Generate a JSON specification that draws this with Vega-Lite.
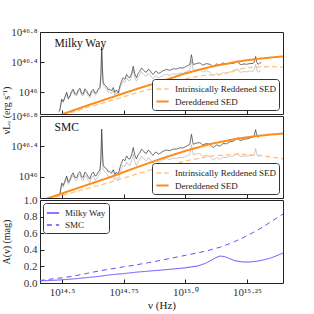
{
  "$schema": "https://vega.github.io/schema/vega-lite/v6.json",
  "padding": {"left": 0, "top": 25, "right": 5, "bottom": 5},
  "config": {
    "font": "Liberation Serif",
    "view": {"stroke": "#222", "strokeWidth": 1},
    "axis": {"grid": false, "domain": false, "tickSize": -4, "tickColor": "#222", "labelFont": "Liberation Serif", "labelFontSize": 11, "labelColor": "#333", "titleFont": "Liberation Serif", "titleFontSize": 11, "titleFontWeight": "normal", "titleColor": "#222", "labelPadding": 7},
    "axisY": {"minExtent": 27, "maxExtent": 27, "titlePadding": 2, "labelFlush": false, "titleFontSize": 10},
    "legend": {"title": null, "fillColor": "white", "strokeColor": "#333", "cornerRadius": 3, "padding": 3, "labelFont": "Liberation Serif", "labelFontSize": 9, "labelColor": "#222", "rowPadding": 0, "symbolType": "stroke", "symbolSize": 150, "symbolStrokeWidth": 1.6, "labelOffset": 5, "offset": 4}
  },
  "datasets": {
    "spec": [
      {"nu":14.488,"obs":45.73,"mw":45.745,"smc":45.755},
      {"nu":14.492,"obs":45.762,"mw":45.777,"smc":45.786},
      {"nu":14.499,"obs":45.892,"mw":45.908,"smc":45.917},
      {"nu":14.505,"obs":45.86,"mw":45.876,"smc":45.886},
      {"nu":14.512,"obs":45.918,"mw":45.934,"smc":45.944},
      {"nu":14.519,"obs":45.983,"mw":46.0,"smc":46.01},
      {"nu":14.526,"obs":45.9,"mw":45.917,"smc":45.928},
      {"nu":14.532,"obs":45.932,"mw":45.95,"smc":45.961},
      {"nu":14.539,"obs":45.99,"mw":46.008,"smc":46.02},
      {"nu":14.545,"obs":46.021,"mw":46.04,"smc":46.052},
      {"nu":14.552,"obs":45.96,"mw":45.979,"smc":45.993},
      {"nu":14.56,"obs":45.954,"mw":45.974,"smc":45.988},
      {"nu":14.566,"obs":46.01,"mw":46.03,"smc":46.045},
      {"nu":14.573,"obs":46.031,"mw":46.052,"smc":46.067},
      {"nu":14.58,"obs":45.96,"mw":45.982,"smc":45.998},
      {"nu":14.586,"obs":45.951,"mw":45.974,"smc":45.99},
      {"nu":14.593,"obs":46.02,"mw":46.044,"smc":46.061},
      {"nu":14.6,"obs":45.993,"mw":46.017,"smc":46.035},
      {"nu":14.607,"obs":45.95,"mw":45.975,"smc":45.994},
      {"nu":14.613,"obs":45.925,"mw":45.95,"smc":45.969},
      {"nu":14.62,"obs":45.99,"mw":46.016,"smc":46.036},
      {"nu":14.627,"obs":46.014,"mw":46.04,"smc":46.062},
      {"nu":14.634,"obs":45.96,"mw":45.987,"smc":46.01},
      {"nu":14.64,"obs":45.968,"mw":45.996,"smc":46.018},
      {"nu":14.647,"obs":46.012,"mw":46.04,"smc":46.064},
      {"nu":14.654,"obs":46.037,"mw":46.066,"smc":46.091},
      {"nu":14.658,"obs":46.2,"mw":46.229,"smc":46.255},
      {"nu":14.661,"obs":46.573,"mw":46.603,"smc":46.629},
      {"nu":14.664,"obs":46.3,"mw":46.33,"smc":46.357},
      {"nu":14.667,"obs":46.097,"mw":46.127,"smc":46.154},
      {"nu":14.674,"obs":46.06,"mw":46.091,"smc":46.12},
      {"nu":14.681,"obs":46.043,"mw":46.075,"smc":46.103},
      {"nu":14.688,"obs":46.0,"mw":46.033,"smc":46.063},
      {"nu":14.694,"obs":46.005,"mw":46.04,"smc":46.068},
      {"nu":14.701,"obs":45.98,"mw":46.015,"smc":46.046},
      {"nu":14.708,"obs":46.026,"mw":46.062,"smc":46.092},
      {"nu":14.714,"obs":45.96,"mw":45.997,"smc":46.029},
      {"nu":14.721,"obs":45.992,"mw":46.03,"smc":46.062},
      {"nu":14.728,"obs":45.95,"mw":45.988,"smc":46.022},
      {"nu":14.735,"obs":46.044,"mw":46.083,"smc":46.118},
      {"nu":14.741,"obs":46.1,"mw":46.14,"smc":46.177},
      {"nu":14.748,"obs":46.153,"mw":46.193,"smc":46.231},
      {"nu":14.755,"obs":46.13,"mw":46.171,"smc":46.21},
      {"nu":14.762,"obs":46.194,"mw":46.236,"smc":46.274},
      {"nu":14.768,"obs":46.16,"mw":46.203,"smc":46.242},
      {"nu":14.775,"obs":46.149,"mw":46.193,"smc":46.231},
      {"nu":14.782,"obs":46.2,"mw":46.245,"smc":46.285},
      {"nu":14.789,"obs":46.299,"mw":46.345,"smc":46.385},
      {"nu":14.795,"obs":46.2,"mw":46.247,"smc":46.288},
      {"nu":14.802,"obs":46.145,"mw":46.193,"smc":46.233},
      {"nu":14.809,"obs":46.2,"mw":46.249,"smc":46.29},
      {"nu":14.816,"obs":46.229,"mw":46.279,"smc":46.319},
      {"nu":14.822,"obs":46.27,"mw":46.32,"smc":46.362},
      {"nu":14.829,"obs":46.251,"mw":46.302,"smc":46.344},
      {"nu":14.836,"obs":46.22,"mw":46.272,"smc":46.315},
      {"nu":14.843,"obs":46.213,"mw":46.266,"smc":46.309},
      {"nu":14.849,"obs":46.25,"mw":46.304,"smc":46.348},
      {"nu":14.856,"obs":46.237,"mw":46.292,"smc":46.336},
      {"nu":14.863,"obs":46.2,"mw":46.256,"smc":46.301},
      {"nu":14.87,"obs":46.18,"mw":46.236,"smc":46.282},
      {"nu":14.876,"obs":46.21,"mw":46.267,"smc":46.314},
      {"nu":14.883,"obs":46.221,"mw":46.279,"smc":46.326},
      {"nu":14.89,"obs":46.19,"mw":46.249,"smc":46.297},
      {"nu":14.897,"obs":46.198,"mw":46.258,"smc":46.306},
      {"nu":14.91,"obs":46.225,"mw":46.286,"smc":46.336},
      {"nu":14.924,"obs":46.239,"mw":46.302,"smc":46.353},
      {"nu":14.937,"obs":46.225,"mw":46.29,"smc":46.343},
      {"nu":14.951,"obs":46.245,"mw":46.311,"smc":46.365},
      {"nu":14.964,"obs":46.24,"mw":46.308,"smc":46.363},
      {"nu":14.978,"obs":46.255,"mw":46.324,"smc":46.381},
      {"nu":14.991,"obs":46.25,"mw":46.321,"smc":46.38},
      {"nu":15.005,"obs":46.272,"mw":46.345,"smc":46.404},
      {"nu":15.018,"obs":46.292,"mw":46.367,"smc":46.427},
      {"nu":15.025,"obs":46.422,"mw":46.498,"smc":46.559},
      {"nu":15.032,"obs":46.289,"mw":46.367,"smc":46.427},
      {"nu":15.045,"obs":46.3,"mw":46.38,"smc":46.444},
      {"nu":15.059,"obs":46.305,"mw":46.39,"smc":46.449},
      {"nu":15.07,"obs":46.27,"mw":46.36,"smc":46.421},
      {"nu":15.086,"obs":46.284,"mw":46.38,"smc":46.438},
      {"nu":15.1,"obs":46.265,"mw":46.37,"smc":46.424},
      {"nu":15.113,"obs":46.22,"mw":46.336,"smc":46.384},
      {"nu":15.127,"obs":46.25,"mw":46.375,"smc":46.42},
      {"nu":15.14,"obs":46.23,"mw":46.36,"smc":46.402},
      {"nu":15.153,"obs":46.26,"mw":46.389,"smc":46.437},
      {"nu":15.167,"obs":46.25,"mw":46.374,"smc":46.434},
      {"nu":15.18,"obs":46.27,"mw":46.387,"smc":46.46},
      {"nu":15.194,"obs":46.27,"mw":46.381,"smc":46.467},
      {"nu":15.204,"obs":46.29,"mw":46.397,"smc":46.49},
      {"nu":15.214,"obs":46.31,"mw":46.415,"smc":46.517},
      {"nu":15.22,"obs":46.27,"mw":46.373,"smc":46.48},
      {"nu":15.227,"obs":46.265,"mw":46.367,"smc":46.479},
      {"nu":15.238,"obs":46.275,"mw":46.376,"smc":46.495},
      {"nu":15.248,"obs":46.27,"mw":46.371,"smc":46.497},
      {"nu":15.262,"obs":46.28,"mw":46.38,"smc":46.511},
      {"nu":15.275,"obs":46.28,"mw":46.383,"smc":46.524},
      {"nu":15.28,"obs":46.3,"mw":46.404,"smc":46.548},
      {"nu":15.285,"obs":46.37,"mw":46.474,"smc":46.62},
      {"nu":15.29,"obs":46.29,"mw":46.395,"smc":46.543},
      {"nu":15.295,"obs":46.265,"mw":46.371,"smc":46.521},
      {"nu":15.302,"obs":46.28,"mw":46.388,"smc":46.542},
      {"nu":15.308,"obs":46.285,"mw":46.393,"smc":46.549}
    ],
    "mwmodel": [
      {"nu":14.41,"red":45.595,"der":45.605},
      {"nu":14.5,"red":45.69,"der":45.705},
      {"nu":14.6,"red":45.794,"der":45.82},
      {"nu":14.7,"red":45.89,"der":45.93},
      {"nu":14.8,"red":45.988,"der":46.04},
      {"nu":14.9,"red":46.078,"der":46.14},
      {"nu":15.0,"red":46.177,"der":46.25},
      {"nu":15.05,"red":46.211,"der":46.293},
      {"nu":15.1,"red":46.229,"der":46.335},
      {"nu":15.14,"red":46.232,"der":46.362},
      {"nu":15.18,"red":46.267,"der":46.384},
      {"nu":15.2,"red":46.292,"der":46.4},
      {"nu":15.25,"red":46.324,"der":46.425},
      {"nu":15.3,"red":46.337,"der":46.445},
      {"nu":15.35,"red":46.34,"der":46.462},
      {"nu":15.396,"red":46.332,"der":46.476}
    ],
    "smcmodel": [
      {"nu":14.41,"red":45.668,"der":45.68},
      {"nu":14.5,"red":45.755,"der":45.78},
      {"nu":14.6,"red":45.844,"der":45.89},
      {"nu":14.7,"red":45.932,"der":46.0},
      {"nu":14.8,"red":46.033,"der":46.12},
      {"nu":14.9,"red":46.126,"der":46.235},
      {"nu":15.0,"red":46.207,"der":46.34},
      {"nu":15.1,"red":46.271,"der":46.43},
      {"nu":15.2,"red":46.295,"der":46.495},
      {"nu":15.25,"red":46.292,"der":46.52},
      {"nu":15.3,"red":46.281,"der":46.54},
      {"nu":15.35,"red":46.259,"der":46.557},
      {"nu":15.396,"red":46.237,"der":46.569}
    ],
    "ext": [
      {"nu":14.41,"mw":0.025,"smc":0.03},
      {"nu":14.45,"mw":0.03,"smc":0.045},
      {"nu":14.5,"mw":0.038,"smc":0.062},
      {"nu":14.55,"mw":0.05,"smc":0.085},
      {"nu":14.6,"mw":0.065,"smc":0.115},
      {"nu":14.65,"mw":0.08,"smc":0.145},
      {"nu":14.7,"mw":0.1,"smc":0.17},
      {"nu":14.75,"mw":0.113,"smc":0.195},
      {"nu":14.8,"mw":0.13,"smc":0.218},
      {"nu":14.85,"mw":0.143,"smc":0.245},
      {"nu":14.9,"mw":0.155,"smc":0.273},
      {"nu":14.95,"mw":0.168,"smc":0.303},
      {"nu":15.0,"mw":0.183,"smc":0.333},
      {"nu":15.05,"mw":0.205,"smc":0.363},
      {"nu":15.08,"mw":0.235,"smc":0.383},
      {"nu":15.1,"mw":0.265,"smc":0.397},
      {"nu":15.12,"mw":0.3,"smc":0.415},
      {"nu":15.14,"mw":0.325,"smc":0.43},
      {"nu":15.16,"mw":0.318,"smc":0.452},
      {"nu":15.18,"mw":0.293,"smc":0.475},
      {"nu":15.2,"mw":0.27,"smc":0.5},
      {"nu":15.23,"mw":0.254,"smc":0.54},
      {"nu":15.26,"mw":0.253,"smc":0.585},
      {"nu":15.29,"mw":0.262,"smc":0.632},
      {"nu":15.32,"mw":0.28,"smc":0.685},
      {"nu":15.35,"mw":0.305,"smc":0.745},
      {"nu":15.396,"mw":0.36,"smc":0.83}
    ]
  },
  "spacing": 2,
  "bounds": "flush",
  "resolve": {"scale": {"y": "independent", "color": "independent", "strokeDash": "independent", "strokeWidth": "independent"}, "legend": {"color": "independent", "strokeDash": "independent"}},
  "vconcat": [
    {
      "width": 243, "height": 82,
      "layer": [
        {"data": {"name": "spec"}, "mark": {"type": "line", "color": "#b4b4b4", "strokeWidth": 0.7, "clip": true},
         "encoding": {
           "x": {"field": "nu", "type": "quantitative", "scale": {"domain": [14.411, 15.396], "nice": false, "zero": false}, "axis": {"values": [14.5, 14.75, 15, 15.25], "labels": false, "title": null}},
           "y": {"field": "obs", "type": "quantitative", "scale": {"domain": [45.71, 46.8], "nice": false, "zero": false}, "axis": {"values": [46, 46.4, 46.8], "labelExpr": "datum.value == 46 ? '10⁴⁶' : (datum.value == 46.4 ? '10⁴⁶·⁴' : '10⁴⁶·⁸')", "title": "νLᵥ (erg s⁻¹)", "titleY": 78, "titleAlign": "center", "titleBaseline": "bottom", "titleAngle": 270}}
         }},
        {"data": {"name": "spec"}, "mark": {"type": "line", "color": "#333333", "strokeWidth": 0.7, "clip": true},
         "encoding": {"x": {"field": "nu", "type": "quantitative"}, "y": {"field": "mw", "type": "quantitative"}}},
        {"data": {"name": "mwmodel"}, "transform": [{"fold": ["red", "der"], "as": ["series", "L"]}],
         "mark": {"type": "line", "clip": true},
         "encoding": {
           "x": {"field": "nu", "type": "quantitative"},
           "y": {"field": "L", "type": "quantitative"},
           "color": {"field": "series", "type": "nominal", "scale": {"domain": ["red", "der"], "range": ["#ffc285", "#ff8c1a"]}, "legend": {"orient": "bottom-right", "labelExpr": "datum.label == 'red' ? 'Intrinsically Reddened SED' : 'Dereddened SED'"}},
           "strokeDash": {"field": "series", "type": "nominal", "scale": {"domain": ["red", "der"], "range": [[5, 3], [1, 0]]}, "legend": {"orient": "bottom-right", "labelExpr": "datum.label == 'red' ? 'Intrinsically Reddened SED' : 'Dereddened SED'"}},
           "strokeWidth": {"field": "series", "type": "nominal", "scale": {"domain": ["red", "der"], "range": [1.3, 2]}, "legend": null}
         }},
        {"data": {"values": [{"label": "Milky Way"}]}, "mark": {"type": "text", "align": "left", "baseline": "alphabetic", "fontSize": 11.5, "color": "#111"},
         "encoding": {"x": {"datum": 14.47}, "y": {"datum": 46.6}, "text": {"field": "label"}}}
      ]
    },
    {
      "width": 243, "height": 82,
      "layer": [
        {"data": {"name": "spec"}, "mark": {"type": "line", "color": "#b4b4b4", "strokeWidth": 0.7, "clip": true},
         "encoding": {
           "x": {"field": "nu", "type": "quantitative", "scale": {"domain": [14.411, 15.396], "nice": false, "zero": false}, "axis": {"values": [14.5, 14.75, 15, 15.25], "labels": false, "title": null}},
           "y": {"field": "obs", "type": "quantitative", "scale": {"domain": [45.72, 46.8], "nice": false, "zero": false}, "axis": {"values": [46, 46.4, 46.8], "labelExpr": "datum.value == 46 ? '10⁴⁶' : (datum.value == 46.4 ? '10⁴⁶·⁴' : '10⁴⁶·⁸')", "title": null}}
         }},
        {"data": {"name": "spec"}, "mark": {"type": "line", "color": "#333333", "strokeWidth": 0.7, "clip": true},
         "encoding": {"x": {"field": "nu", "type": "quantitative"}, "y": {"field": "smc", "type": "quantitative"}}},
        {"data": {"name": "smcmodel"}, "transform": [{"fold": ["red", "der"], "as": ["series", "L"]}],
         "mark": {"type": "line", "clip": true},
         "encoding": {
           "x": {"field": "nu", "type": "quantitative"},
           "y": {"field": "L", "type": "quantitative"},
           "color": {"field": "series", "type": "nominal", "scale": {"domain": ["red", "der"], "range": ["#ffc285", "#ff8c1a"]}, "legend": {"orient": "bottom-right", "labelExpr": "datum.label == 'red' ? 'Intrinsically Reddened SED' : 'Dereddened SED'"}},
           "strokeDash": {"field": "series", "type": "nominal", "scale": {"domain": ["red", "der"], "range": [[5, 3], [1, 0]]}, "legend": {"orient": "bottom-right", "labelExpr": "datum.label == 'red' ? 'Intrinsically Reddened SED' : 'Dereddened SED'"}},
           "strokeWidth": {"field": "series", "type": "nominal", "scale": {"domain": ["red", "der"], "range": [1.3, 2]}, "legend": null}
         }},
        {"data": {"values": [{"label": "SMC"}]}, "mark": {"type": "text", "align": "left", "baseline": "alphabetic", "fontSize": 11.5, "color": "#111"},
         "encoding": {"x": {"datum": 14.47}, "y": {"datum": 46.6}, "text": {"field": "label"}}}
      ]
    },
    {
      "width": 243, "height": 83,
      "data": {"name": "ext"},
      "transform": [{"fold": ["mw", "smc"], "as": ["dust", "A"]}],
      "mark": {"type": "line", "strokeWidth": 1, "clip": true},
      "encoding": {
        "x": {"field": "nu", "type": "quantitative", "scale": {"domain": [14.411, 15.396], "nice": false, "zero": false}, "axis": {"values": [14.5, 14.75, 15, 15.25], "labelExpr": "datum.value == 14.5 ? '10¹⁴·⁵' : (datum.value == 14.75 ? '10¹⁴·⁷⁵' : (datum.value == 15 ? '10¹⁵·⁰' : '10¹⁵·²⁵'))", "title": "ν (Hz)", "titlePadding": 2}},
        "y": {"field": "A", "type": "quantitative", "scale": {"domain": [0, 1], "nice": false}, "axis": {"values": [0, 0.2, 0.4, 0.6, 0.8, 1.0], "format": ".1f", "title": "A(ν) (mag)"}},
        "color": {"field": "dust", "type": "nominal", "scale": {"domain": ["mw", "smc"], "range": ["#5f50ff", "#5f50ff"]}, "legend": {"orient": "top-left", "offset": 3, "labelExpr": "datum.label == 'mw' ? 'Milky Way' : 'SMC'"}},
        "strokeDash": {"field": "dust", "type": "nominal", "scale": {"domain": ["mw", "smc"], "range": [[1, 0], [5, 4]]}, "legend": {"orient": "top-left", "offset": 3, "labelExpr": "datum.label == 'mw' ? 'Milky Way' : 'SMC'"}}
      }
    }
  ]
}
